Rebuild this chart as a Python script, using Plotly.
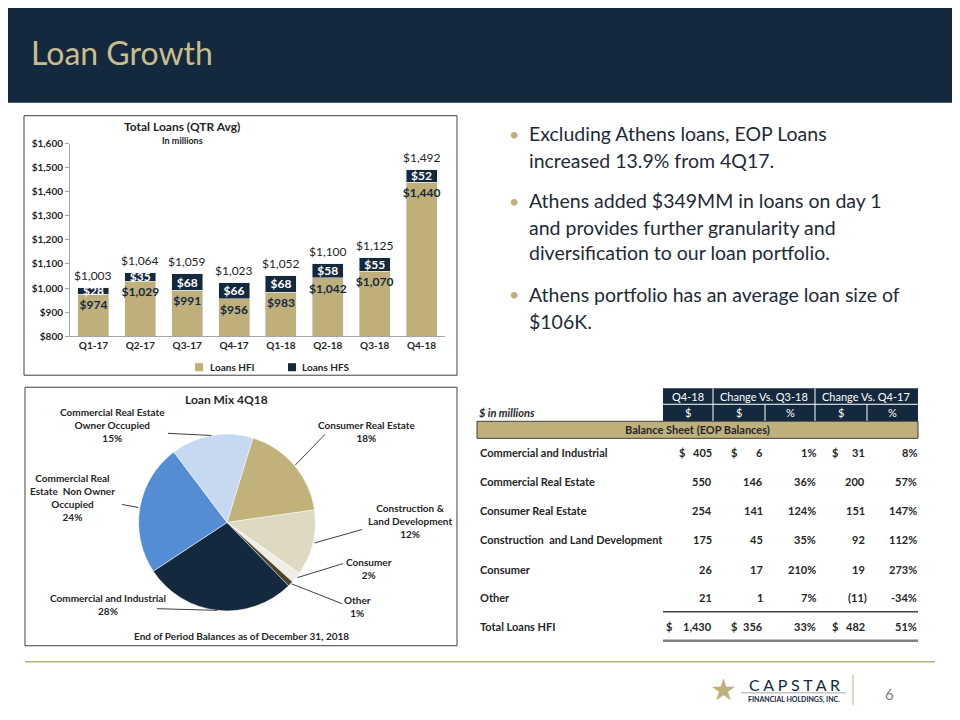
import math
import plotly.graph_objects as go

# Page placement of the figure as observed in the capture: x_page = x_fig + 8,
# y_capture ~= 0.98 * y_fig + 14.5. Map reference pixels through that.
OFFX = 8
SY, OFFY = 0.98, 14.5
W, H = 952, 720
def X(px): return (px - OFFX) / W
def Y(py): return 1 - ((py - OFFY) / SY) / H

NAVY = "#14293D"
GOLD = "#BFB07B"
TEXT = "#262626"
FONT = "Lato"

# ---------------- data ----------------
quarters = ["Q1-17", "Q2-17", "Q3-17", "Q4-17", "Q1-18", "Q2-18", "Q3-18", "Q4-18"]
loans_hfi = [974, 1029, 991, 956, 983, 1042, 1070, 1440]
loans_hfs = [28, 35, 68, 66, 68, 58, 55, 52]
loans_total = [1003, 1064, 1059, 1023, 1052, 1100, 1125, 1492]

mix_labels = ["Consumer Real Estate", "Construction & Land Development", "Consumer", "Other",
              "Commercial and Industrial", "Commercial Real Estate Non Owner Occupied",
              "Commercial Real Estate Owner Occupied"]
mix_display = ["Consumer Real Estate", "Construction &<br>Land Development", "Consumer", "Other",
               "Commercial and Industrial", "Commercial Real<br>Estate  Non Owner<br>Occupied",
               "Commercial Real Estate<br>Owner Occupied"]
mix_pct = [18, 12, 2, 1, 28, 24, 15]
mix_colors = ["#C0B27A", "#DDD9C3", "#EEEDE6", "#4A4429", "#14293D", "#548DD4", "#C6D9F1"]

table_rows = ["Commercial and Industrial", "Commercial Real Estate", "Consumer Real Estate",
              "Construction  and Land Development", "Consumer", "Other", "Total Loans HFI"]
q4_18 = [405, 550, 254, 175, 26, 21, 1430]
chg_q3_usd = [6, 146, 141, 45, 17, 1, 356]
chg_q3_pct = [1, 36, 124, 35, 210, 7, 33]
chg_q4_usd = [31, 200, 151, 92, 19, -11, 482]
chg_q4_pct = [8, 57, 147, 112, 273, -34, 51]

bullets = [
    ["Excluding Athens loans, EOP Loans", "increased 13.9% from 4Q17."],
    ["Athens added $349MM in loans on day 1", "and provides further granularity and",
     "diversification to our loan portfolio."],
    ["Athens portfolio has an average loan size of", "$106K."],
]

fig = go.Figure()
shapes = []
ann = []

def rect(x0, y0, x1, y1, fill=None, line=None, lw=1):
    shapes.append(dict(type="rect", xref="paper", yref="paper", x0=X(x0), x1=X(x1), y0=Y(y1), y1=Y(y0),
                       fillcolor=fill if fill else "rgba(0,0,0,0)",
                       line=dict(color=line if line else "rgba(0,0,0,0)", width=lw if line else 0),
                       layer="below" if fill else "above"))

def seg(x0, y0, x1, y1, color, lw=1):
    shapes.append(dict(type="line", xref="paper", yref="paper", x0=X(x0), x1=X(x1), y0=Y(y0), y1=Y(y1),
                       line=dict(color=color, width=lw)))

def txt(x, y, s, size=11, color=TEXT, bold=True, xanchor="center", italic=False, family=FONT):
    ann.append(dict(xref="paper", yref="paper", x=X(x), y=Y(y), text=s, showarrow=False,
                    xanchor=xanchor, yanchor="middle", align=xanchor if xanchor != "center" else "center",
                    font=dict(family=family, size=size, color=color,
                              weight="bold" if bold else "normal",
                              style="italic" if italic else "normal")))

# ---------------- header ----------------
rect(0, 0, 960, 102, fill=NAVY)
txt(29, 52, "Loan Growth", size=32, color="#C8BD8E", bold=False, xanchor="left")

# ---------------- bar chart ----------------
fig.add_trace(go.Bar(
    x=quarters, y=loans_hfi, name="Loans HFI", marker=dict(color=GOLD),
    text=[f"${v:,}" for v in loans_hfi], textposition="inside", insidetextanchor="end", textangle=0,
    textfont=dict(family=FONT, size=12, color=NAVY, weight="bold"), showlegend=False))
fig.add_trace(go.Bar(
    x=quarters, y=loans_hfs, name="Loans HFS", marker=dict(color=NAVY),
    text=[f"${v:,}" for v in loans_hfs], textposition="inside", insidetextanchor="middle", textangle=0,
    textfont=dict(family=FONT, size=12, color="white", weight="bold"), showlegend=False))
# total labels above each stacked bar
for q, t in zip(quarters, loans_total):
    ann.append(dict(xref="x", yref="y", x=q, y=t, text=f"${t:,}", showarrow=False,
                    yanchor="middle", yshift=12,
                    font=dict(family=FONT, size=12, color=TEXT)))

rect(24, 115, 457, 374, line="#404040")
txt(182, 126, "Total Loans (QTR Avg)", size=12)
txt(182, 140, "In millions", size=9)
# legend
rect(195, 362, 203, 370, fill=GOLD)
txt(208, 366, "Loans HFI", size=10, xanchor="left")
rect(288, 362, 296, 370, fill=NAVY)
txt(300, 366, "Loans HFS", size=10, xanchor="left")

# ---------------- pie chart ----------------
cx, cy, r = 227, 521, 90
rotation = 17
fig.add_trace(go.Pie(
    labels=mix_labels, values=mix_pct, sort=False, direction="clockwise", rotation=rotation,
    marker=dict(colors=mix_colors, line=dict(color="white", width=0.5)),
    textinfo="none", showlegend=False, hoverinfo="label+percent",
    domain=dict(x=[X(cx - r), X(cx + r)], y=[Y(cy + r * SY), Y(cy - r * SY)])))

label_pos = [(367, 430), (410, 519), (369, 567), (357, 605), (108, 603), (72, 496), (112, 424)]
line_end = [(325, 433), (362, 528), (343, 562), (342, 602), (157, 607), (122, 503), (168, 432)]
total = sum(mix_pct)
cum = 0
for i, v in enumerate(mix_pct):
    mid = math.radians(rotation + 360 * (cum + v / 2) / total)
    cum += v
    ex, ey = cx + r * math.sin(mid), cy - SY * r * math.cos(mid)
    seg(ex, ey, line_end[i][0], line_end[i][1], "#404040", 1)
    txt(label_pos[i][0], label_pos[i][1], f"{mix_display[i]}<br>{v}%", size=10)

rect(25, 386, 457, 644, line="#404040")
txt(226, 398, "Loan Mix 4Q18", size=12)
txt(241, 634, "End of Period Balances as of December 31, 2018", size=10)

# ---------------- bullets ----------------
by = [[133, 160], [200, 227, 252], [293, 320]]
for b, ys in zip(bullets, by):
    txt(514, ys[0], "•", size=18, color=GOLD, bold=False)
    for line, yy in zip(b, ys):
        txt(527, yy, line, size=19.5, color="#1F2A36", bold=False, xanchor="left")

# ---------------- table ----------------
rect(663, 387, 918, 420, fill=NAVY)
seg(663, 403, 918, 403, "white", 1)
for xv in (713, 815):
    seg(xv, 387, xv, 403, "white", 1)
for xv in (713, 765, 815, 867):
    seg(xv, 403, xv, 420, "white", 1)
txt(688, 395, "Q4-18", size=11, color="white", bold=False)
txt(764, 395, "Change Vs. Q3-18", size=11, color="white", bold=False)
txt(866, 395, "Change Vs. Q4-17", size=11, color="white", bold=False)
for xv, s in zip((688, 739, 790, 841, 892), ("$", "$", "%", "$", "%")):
    txt(xv, 411, s, size=11, color="white", bold=False)
txt(477, 411, "$ in millions", size=11, italic=True, xanchor="left")
rect(477, 420, 918, 437, fill=GOLD)
rect(477, 420, 918, 437, line="#404040")
txt(697, 428.5, "Balance Sheet (EOP Balances)", size=11)

row_y = [451, 480, 509, 538, 568, 596, 625]
def fmt_usd(v):
    return f"({abs(v):,})" if v < 0 else f"{v:,}"
for i, name in enumerate(table_rows):
    yy = row_y[i]
    txt(478, yy, name, size=11, xanchor="left")
    txt(714, yy, fmt_usd(q4_18[i]), size=11, xanchor="right")
    txt(765, yy, fmt_usd(chg_q3_usd[i]), size=11, xanchor="right")
    txt(818, yy, f"{chg_q3_pct[i]}%", size=11, xanchor="right")
    txt(869 if chg_q4_usd[i] < 0 else 867, yy, fmt_usd(chg_q4_usd[i]), size=11, xanchor="right")
    txt(919, yy, f"{chg_q4_pct[i]}%", size=11, xanchor="right")
    if i == 0 or i == len(table_rows) - 1:
        txt(664 if i else 677, yy, "$", size=11, xanchor="left")
        txt(729, yy, "$", size=11, xanchor="left")
        txt(830, yy, "$", size=11, xanchor="left")
seg(663, 610, 918, 610, "#404040", 1.5)
seg(663, 639, 918, 639, "#808080", 2.5)

# ---------------- footer ----------------
seg(25, 660, 935, 660, GOLD, 1.5)
txt(723, 688, "★", size=30, color=GOLD, bold=False, family="DejaVu Sans")
txt(794, 683, "C A P S T A R", size=16, color=NAVY, bold=False)
seg(741, 691, 846, 691, "#A6A6A6", 1)
txt(794, 698, "FINANCIAL HOLDINGS, INC.", size=7, color=NAVY)
seg(853, 673, 853, 703, GOLD, 1)
txt(889, 692, "6", size=15, color="#7F7F7F", bold=False)

fig.update_layout(
    width=W, height=H, margin=dict(l=0, r=0, t=0, b=0),
    paper_bgcolor="white", plot_bgcolor="white",
    barmode="stack", bargap=0.34,
    uniformtext=dict(minsize=12, mode="show"),
    font=dict(family=FONT, color=TEXT),
    showlegend=False,
    xaxis=dict(domain=[X(70), X(445)], anchor="y", showline=True, linecolor="#A6A6A6",
               ticks="", showgrid=False, tickfont=dict(size=10, weight="bold", color=TEXT)),
    yaxis=dict(domain=[Y(335), Y(143)], anchor="x", range=[800, 1600], dtick=100,
               tickprefix="$", tickformat=",", showline=True, linecolor="#A6A6A6",
               ticks="outside", ticklen=4, tickcolor="#A6A6A6", showgrid=False, zeroline=False,
               tickfont=dict(size=10, weight="bold", color=TEXT)),
    shapes=shapes, annotations=ann,
)

fig.write_html("out.html")
